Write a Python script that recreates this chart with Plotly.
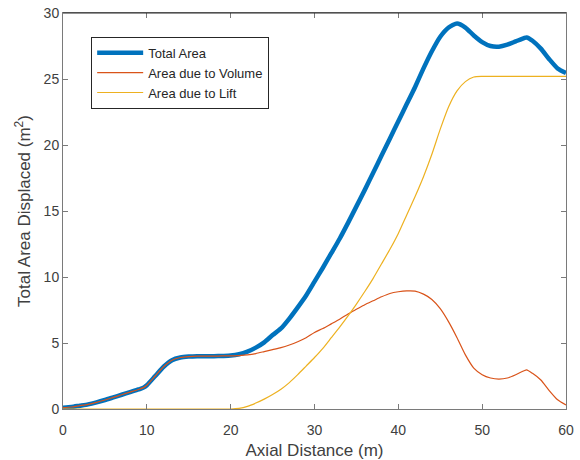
import plotly.graph_objects as go

# Axial stations (m)
axial_distance = [0, 1, 2, 3, 4, 5, 6, 7, 8, 9, 9.6, 10, 11, 12, 13, 14, 15, 16, 17, 18, 19,
                  20, 21, 22, 23, 24, 25, 26, 27, 28, 29, 30, 31, 32, 33, 34, 35, 36, 37, 38,
                  39, 40, 41, 42, 43, 44, 45, 46, 47, 48, 49, 50, 51, 52, 53, 54, 55, 55.3,
                  56, 57, 58, 59, 60]

# Displaced area (m^2)
total_area = [0.1, 0.15, 0.25, 0.35, 0.5, 0.68, 0.88, 1.08, 1.28, 1.48, 1.62, 1.8, 2.5, 3.2,
              3.7, 3.9, 3.97, 4.0, 4.0, 4.0, 4.02,
              4.05, 4.15, 4.35, 4.65, 5.05, 5.6, 6.1, 6.85, 7.7, 8.6, 9.65, 10.7, 11.8, 12.9,
              14.1, 15.35, 16.6, 17.9, 19.2, 20.5, 21.8, 23.1, 24.4, 25.8, 27.1, 28.2, 28.9,
              29.2, 28.9, 28.3, 27.8, 27.5, 27.45, 27.6, 27.85, 28.1, 28.15,
              27.9, 27.3, 26.5, 25.8, 25.45]

area_volume = [0.1, 0.15, 0.25, 0.35, 0.5, 0.68, 0.88, 1.08, 1.28, 1.48, 1.62, 1.8, 2.5, 3.2,
               3.7, 3.9, 3.97, 4.0, 4.0, 4.0, 4.02,
               4.03, 4.05, 4.1, 4.2, 4.35, 4.5, 4.65, 4.85, 5.1, 5.4, 5.8, 6.1, 6.45, 6.8,
               7.2, 7.55, 7.9, 8.2, 8.5, 8.75, 8.88, 8.95, 8.93, 8.7, 8.3, 7.6, 6.6,
               5.4, 4.1, 3.1, 2.6, 2.35, 2.27, 2.35, 2.6, 2.9, 2.97,
               2.7, 2.2, 1.4, 0.7, 0.3]

area_lift = [0, 0, 0, 0, 0, 0, 0, 0, 0, 0, 0, 0, 0, 0, 0, 0, 0, 0, 0, 0, 0,
             0, 0.05, 0.2, 0.45, 0.75, 1.1, 1.5, 2.0, 2.6, 3.25, 3.9, 4.6, 5.4, 6.2,
             7.05, 7.95, 8.9, 9.9, 11.0, 12.1, 13.3, 14.7, 16.1, 17.6, 19.3, 21.2, 22.9,
             24.1, 24.8, 25.15, 25.2, 25.2, 25.2, 25.2, 25.2, 25.2, 25.2,
             25.2, 25.2, 25.2, 25.2, 25.2]

x_ticks = [0, 10, 20, 30, 40, 50, 60]
y_ticks = [0, 5, 10, 15, 20, 25, 30]

FONT = "Liberation Sans, Arial, sans-serif"
TEXT = "#404040"
AXIS = "#7a7a7a"

fig = go.Figure()
fig.add_trace(go.Scatter(x=axial_distance, y=total_area, mode="lines", name="Total Area",
                         line=dict(color="#0072BD", width=4.5, shape="spline", smoothing=0.6)))
fig.add_trace(go.Scatter(x=axial_distance, y=area_volume, mode="lines", name="Area due to Volume",
                         line=dict(color="#D95319", width=1.2, shape="spline", smoothing=0.6)))
fig.add_trace(go.Scatter(x=axial_distance, y=area_lift, mode="lines", name="Area due to Lift",
                         line=dict(color="#EDB120", width=1.2, shape="spline", smoothing=0.6)))

axis_common = dict(
    showgrid=False, zeroline=False, showline=True, linecolor=AXIS, linewidth=1,
    mirror="ticks", ticks="inside", ticklen=5, tickcolor=AXIS, tickwidth=1,
    tickfont=dict(family=FONT, size=14, color=TEXT),
)

fig.update_xaxes(range=[0, 60], tickvals=x_ticks, ticklabelstandoff=8,
                 title=dict(text="Axial Distance (m)", font=dict(family=FONT, size=17, color=TEXT),
                            standoff=8),
                 **axis_common)
fig.update_yaxes(range=[0, 30], tickvals=y_ticks,
                 title=dict(text="Total Area Displaced (m<sup>2</sup>)",
                            font=dict(family=FONT, size=17, color=TEXT), standoff=8),
                 **axis_common)

fig.update_layout(
    width=580, height=460,
    margin=dict(l=63, r=14, t=13, b=51, autoexpand=False),
    paper_bgcolor="white", plot_bgcolor="white",
    font=dict(family=FONT, color=TEXT),
    showlegend=True,
    legend=dict(x=0.056, y=0.94, xanchor="left", yanchor="top",
                bgcolor="white", bordercolor="#262626", borderwidth=1,
                font=dict(family=FONT, size=13, color="#262626"),
                tracegroupgap=0, itemwidth=46),
    shapes=[dict(type="line", xref="paper", yref="paper", x0=0, x1=1, y0=1, y1=1,
                 line=dict(color="#262626", width=1))],
)

fig.write_html("out.html")
